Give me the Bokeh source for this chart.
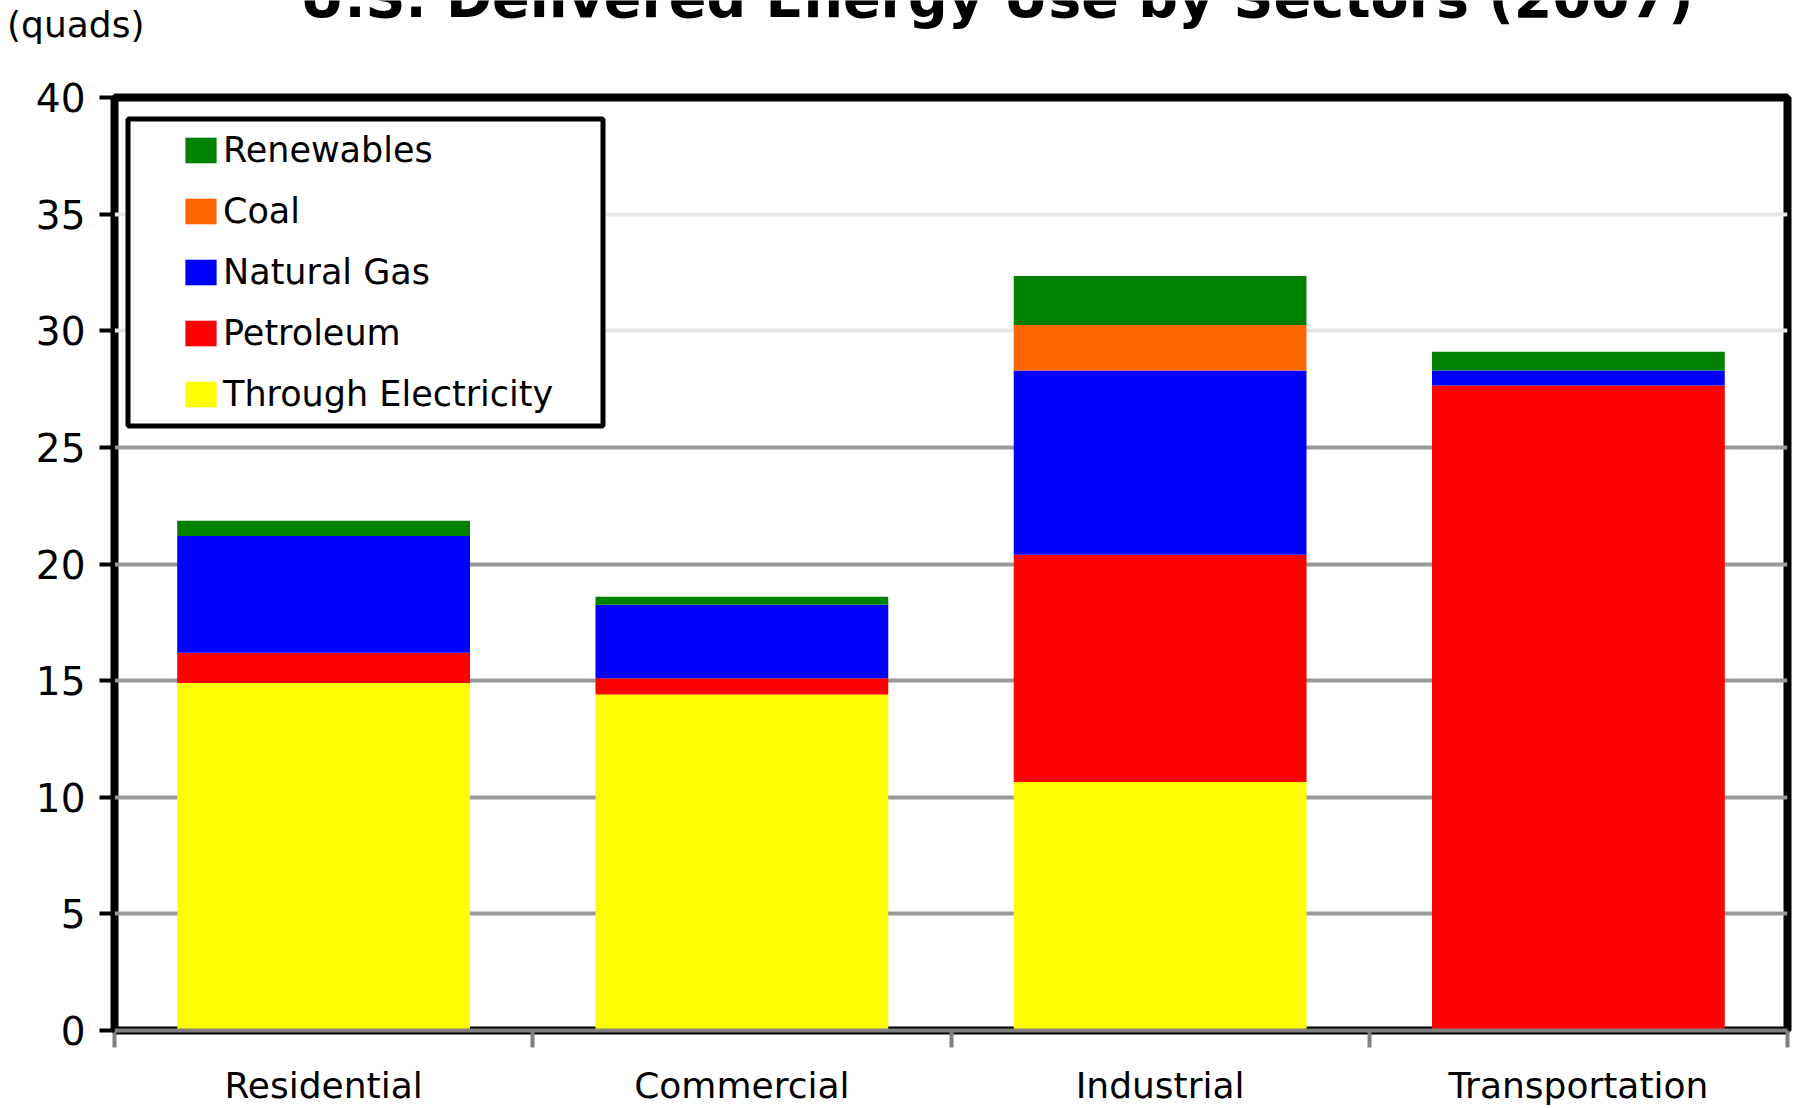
from bokeh.plotting import figure
from bokeh.layouts import column
from bokeh.models import (ColumnDataSource, Range1d, FixedTicker, Grid, Legend,
                          LegendItem, Label, BoxAnnotation)
from bokeh.embed import file_html
from bokeh.resources import INLINE

# Delivered energy use by sector, 2007 (quadrillion Btu)
categories = ["Residential", "Commercial", "Industrial", "Transportation"]
through_electricity = [14.9, 14.4, 10.65, 0.0]
petroleum = [1.3, 0.7, 9.75, 27.65]
natural_gas = [5.0, 3.15, 7.9, 0.65]
coal = [0.0, 0.0, 1.95, 0.0]
renewables = [0.65, 0.35, 2.1, 0.8]

series_keys = ["through_electricity", "petroleum", "natural_gas", "coal", "renewables"]
series_names = ["Through Electricity", "Petroleum", "Natural Gas", "Coal", "Renewables"]
series_colors = ["#ffff00", "#ff0000", "#0000ff", "#ff6600", "#008000"]
y_ticks = [0, 5, 10, 15, 20, 25, 30, 35, 40]

title_text = "U.S. Delivered Energy Use by Sectors (2007)"
unit_text = "(quads)"

FONT = "DejaVu Sans"
W = 1797
HEAD_H = 60
BODY_H = 1048
LEFT, RIGHT = 114, 10

# ---- header strip: chart title (running off the top edge) and unit note ----
# its frame uses pixel coordinates, so x/y below are page pixels
head = figure(width=W, height=HEAD_H, title=None,
              x_range=Range1d(LEFT, W - RIGHT), y_range=Range1d(0, HEAD_H),
              x_axis_type=None,
              min_border_left=LEFT, min_border_right=RIGHT,
              min_border_top=0, min_border_bottom=0,
              output_backend="svg", toolbar_location=None,
              background_fill_color="white", border_fill_color="white")
head.outline_line_color = None
head.grid.visible = False
head.add_layout(Label(x=996, y=HEAD_H + 3, text=title_text,
                      text_align="center", text_baseline="alphabetic",
                      text_font=FONT, text_font_style="bold",
                      text_font_size="55.5px", text_color="black"))

# unit note sits in the left margin, carried by the header's y axis
unit_y = HEAD_H - 23.5
hax = head.yaxis[0]
hax.ticker = FixedTicker(ticks=[unit_y])
hax.major_label_overrides = {unit_y: unit_text}
hax.axis_line_color = None
hax.major_tick_line_color = None
hax.minor_tick_line_color = None
hax.major_tick_out = 0
hax.major_tick_in = 0
hax.minor_tick_out = 0
hax.minor_tick_in = 0
hax.major_label_standoff = -30
hax.major_label_text_font = FONT
hax.major_label_text_font_size = "36px"
hax.major_label_text_color = "black"

# ---- main chart ----
positions = list(range(len(categories)))
source = ColumnDataSource(dict(
    x=positions,
    through_electricity=through_electricity,
    petroleum=petroleum,
    natural_gas=natural_gas,
    coal=coal,
    renewables=renewables,
))

p = figure(
    width=W, height=BODY_H,
    x_range=Range1d(-0.5, len(categories) - 0.5),
    y_range=Range1d(0, 40),
    output_backend="svg", toolbar_location=None,
    min_border_left=LEFT, min_border_right=RIGHT,
    min_border_top=37, min_border_bottom=78,
    background_fill_color="white", border_fill_color="white",
)
p.outline_line_color = "black"
p.outline_line_width = 8

# stacked bars
bars = p.vbar_stack(series_keys, x="x", width=0.7, source=source,
                    fill_color=series_colors, line_color=None)

# horizontal gridlines: pale in the upper band, grey below
p.xgrid.visible = False
p.ygrid.visible = False
p.add_layout(Grid(dimension=1, ticker=FixedTicker(ticks=[30, 35]),
                  grid_line_color="#e6e6e6", grid_line_width=4))
p.add_layout(Grid(dimension=1, ticker=FixedTicker(ticks=[5, 10, 15, 20, 25]),
                  grid_line_color="#999999", grid_line_width=4))

# y axis
yax = p.yaxis[0]
yax.ticker = FixedTicker(ticks=y_ticks)
yax.axis_line_color = None
yax.major_tick_line_color = "black"
yax.major_tick_line_width = 4
yax.major_tick_out = 15
yax.major_tick_in = 0
yax.minor_tick_line_color = None
yax.major_label_standoff = 14
yax.major_label_text_font = FONT
yax.major_label_text_font_size = "39px"
yax.major_label_text_color = "black"

# x axis: sector names centred, tick marks on sector boundaries
xax = p.xaxis[0]
xax.ticker = FixedTicker(ticks=positions,
                         minor_ticks=[i - 0.5 for i in range(len(categories) + 1)])
xax.major_label_overrides = {i: c for i, c in zip(positions, categories)}
xax.axis_line_color = "#808080"
xax.axis_line_width = 4
xax.major_tick_line_color = None
xax.major_tick_out = 0
xax.major_tick_in = 0
xax.minor_tick_line_color = "#808080"
xax.minor_tick_line_width = 4
xax.minor_tick_out = 17
xax.minor_tick_in = 0
xax.major_label_standoff = 17
xax.major_label_text_font = FONT
xax.major_label_text_font_size = "36px"
xax.major_label_text_color = "black"

# legend frame
p.add_layout(BoxAnnotation(left=13.5, right=488.5, top=911.5, bottom=604.5,
                           left_units="screen", right_units="screen",
                           top_units="screen", bottom_units="screen",
                           fill_color="white", fill_alpha=1.0,
                           line_color="black", line_alpha=1.0, line_width=5))

items = [LegendItem(label=name, renderers=[r])
         for name, r in reversed(list(zip(series_names, bars)))]
legend = Legend(items=items, location=(67, 616), padding=10, spacing=21,
                margin=0, glyph_width=39, glyph_height=32, label_height=26,
                label_standoff=3, label_text_font=FONT,
                label_text_font_size="35px", label_text_color="black",
                border_line_color=None, background_fill_alpha=0)
p.add_layout(legend)

page = column(head, p, spacing=0)
open("out.html", "w").write(file_html(page, INLINE))
